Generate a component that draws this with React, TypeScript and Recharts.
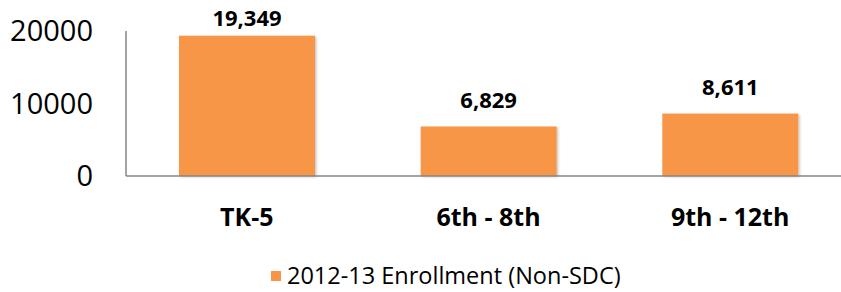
import { Bar, BarChart, LabelList, Legend, XAxis, YAxis } from 'recharts'

const categories = ['TK-5', '6th - 8th', '9th - 12th']
const enrollment = [19349, 6829, 8611]
const yTicks = [0, 10000, 20000]

const seriesName = '2012-13 Enrollment (Non-SDC)'

const palette = {
  bar: '#F79646',
  axis: '#868686',
  ink: '#000000',
}

const font = '"Open Sans", sans-serif'

const chartData = categories.map((category, index) => ({
  category,
  value: enrollment[index],
}))

const numberFormatter = new Intl.NumberFormat('en-US')

function ShadowBar(props: any) {
  const { x, y, width, height } = props
  return (
    <g>
      <defs>
        <filter id="bar-shadow" x="-10%" y="-10%" width="130%" height="130%">
          <feDropShadow dx="1.5" dy="1" stdDeviation="1.2" floodColor="#000" floodOpacity="0.22" />
        </filter>
      </defs>
      <rect x={x} y={y} width={width} height={height} fill={palette.bar} filter="url(#bar-shadow)" />
    </g>
  )
}

function ValueLabel(props: any) {
  const { x, y, width, value } = props
  const labelY = Math.max(y - 27.5, 17)
  return (
    <text
      x={x + width / 2}
      y={labelY}
      textAnchor="middle"
      dominantBaseline="central"
      fontFamily={font}
      fontSize={22}
      fontWeight={700}
      fill={palette.ink}
    >
      {numberFormatter.format(value)}
    </text>
  )
}

function LegendContent() {
  return (
    <div
      style={{
        height: 56,
        position: 'relative',
        fontFamily: font,
        fontSize: 23.5,
        color: palette.ink,
      }}
    >
      <span
        style={{
          position: 'absolute',
          left: 271,
          top: 35,
          width: 10,
          height: 10,
          background: palette.bar,
        }}
      />
      <span
        style={{
          position: 'absolute',
          left: 287,
          top: 24,
          lineHeight: '31px',
          whiteSpace: 'nowrap',
        }}
      >
        {seriesName}
      </span>
    </div>
  )
}

export default function App() {
  return (
    <div
      style={{
        position: 'absolute',
        left: 0,
        top: 0,
        width: 841,
        height: 292,
        overflow: 'hidden',
        background: '#fff',
      }}
    >
      <BarChart
        width={851}
        height={292}
        data={chartData}
        margin={{ top: 31, right: 0, bottom: 0, left: 0 }}
      >
        <XAxis
          dataKey="category"
          stroke={palette.axis}
          strokeWidth={1.5}
          tickLine={false}
          height={60}
          tick={{ fill: palette.ink, fontFamily: font, fontSize: 25, fontWeight: 700 }}
          tickMargin={26}
          interval={0}
        />
        <YAxis
          domain={[0, 20000]}
          ticks={yTicks}
          width={126}
          stroke={palette.axis}
          strokeWidth={1.5}
          tickLine={false}
          tickMargin={27}
          tick={{ fill: palette.ink, fontFamily: font, fontSize: 29 }}
        />
        <Legend verticalAlign="bottom" content={<LegendContent />} wrapperStyle={{ left: 0, width: 851 }} />
        <Bar
          dataKey="value"
          name={seriesName}
          barSize={136}
          fill={palette.bar}
          shape={<ShadowBar />}
          isAnimationActive={false}
        >
          <LabelList dataKey="value" content={<ValueLabel />} />
        </Bar>
      </BarChart>
    </div>
  )
}
